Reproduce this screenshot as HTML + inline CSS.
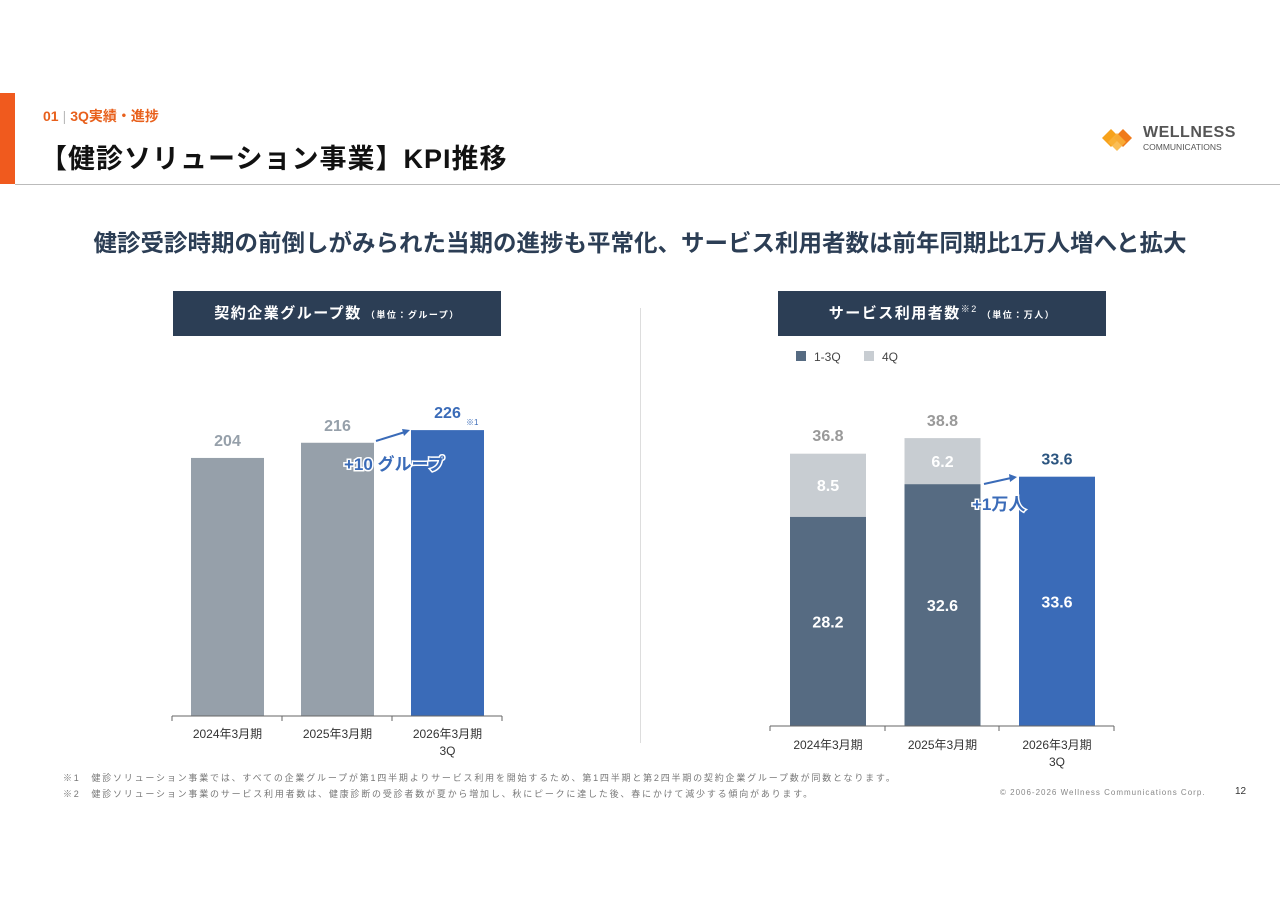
<!DOCTYPE html>
<html><head><meta charset="utf-8"><style>
body{margin:0;width:1280px;height:905px;background:#fff;font-family:"Liberation Sans","Noto Sans CJK JP",sans-serif;overflow:hidden;position:relative}
.abs{position:absolute}
</style></head><body>
<div class="abs" style="left:0;top:93px;width:15px;height:91px;background:#f05a1e"></div>
<div class="abs" style="left:43px;top:106px;font-size:14px;font-weight:bold;color:#e8601c">01<span style="color:#bbb;font-weight:normal;margin:0 4px">|</span>3Q実績・進捗</div>
<div class="abs" style="left:40px;top:137px;font-size:27px;font-weight:bold;color:#111;letter-spacing:1px">【健診ソリューション事業】KPI推移</div>
<div class="abs" style="left:15px;top:184px;width:1265px;height:1px;background:#bbb"></div>
<div class="abs" style="left:1100px;top:124px;width:140px;height:30px">
<svg width="40" height="28" style="position:absolute;left:0;top:0"><polygon points="2,14 11,5 20,14 11,23" fill="#f7a21b"/><polygon points="14,14 23,5 32,14 23,23" fill="#f07a1a"/><polygon points="8,18 17,9 26,18 17,27" fill="#f9b33a" opacity=".85"/></svg>
<div style="position:absolute;left:43px;top:0;font-size:16px;font-weight:bold;color:#555;letter-spacing:.5px">WELLNESS</div>
<div style="position:absolute;left:43px;top:18px;font-size:8.5px;color:#555">COMMUNICATIONS</div></div>
<div class="abs" style="left:0;width:1280px;top:224px;text-align:center;font-size:23.5px;font-weight:bold;color:#2c3e55;white-space:nowrap">健診受診時期の前倒しがみられた当期の進捗も平常化、サービス利用者数は前年同期比1万人増へと拡大</div>
<div class="abs" style="left:173px;top:291px;width:328px;height:45px;background:#2c3e55;color:#fff;text-align:center;line-height:45px;font-size:15px;font-weight:bold;letter-spacing:1.5px">契約企業グループ数<span style="font-size:9px"> （単位：グループ）</span></div>
<div class="abs" style="left:778px;top:291px;width:328px;height:45px;background:#2c3e55;color:#fff;text-align:center;line-height:45px;font-size:15px;font-weight:bold;letter-spacing:1.5px">サービス利用者数<sup style="font-size:9px;font-weight:normal;line-height:0">※2</sup><span style="font-size:9px"> （単位：万人）</span></div>
<div class="abs" style="left:640px;top:308px;width:1px;height:435px;background:#ddd"></div>
<svg class="abs" style="left:0;top:0" width="1280" height="905" id="svg"></svg>
<div class="abs" style="left:63px;top:770px;font-size:9px;color:#777;line-height:16px;letter-spacing:1.8px;white-space:nowrap">※1　健診ソリューション事業では、すべての企業グループが第1四半期よりサービス利用を開始するため、第1四半期と第2四半期の契約企業グループ数が同数となります。<br>※2　健診ソリューション事業のサービス利用者数は、健康診断の受診者数が夏から増加し、秋にピークに達した後、春にかけて減少する傾向があります。</div>
<div class="abs" style="left:1000px;top:788px;font-size:8px;color:#888;letter-spacing:1px;white-space:nowrap">© 2006-2026 Wellness Communications Corp.</div>
<div class="abs" style="left:1235px;top:786px;font-size:10px;color:#333">12</div>
<script>
const catsL=["2024年3月期","2025年3月期","2026年3月期|3Q"];
const valsL=[204,216,226];
const cats=["2024年3月期","2025年3月期","2026年3月期|3Q"];
const q13=[28.2,32.6,33.6];
const q4=[8.5,6.2,0];
const totals=[36.8,38.8,33.6];
const S=document.getElementById('svg');const N='http://www.w3.org/2000/svg';
function el(t,a,txt){const e=document.createElementNS(N,t);for(const k in a)e.setAttribute(k,a[k]);if(txt!=null)e.textContent=txt;S.appendChild(e);return e;}
// left
const yL=v=>716-v*1.265, xL=i=>191+i*110;
valsL.forEach((v,i)=>{
const b=el('rect',{x:xL(i),y:yL(v),width:73,height:716-yL(v),fill:i==2?'#3a6bb8':'#96a0aa'});

const t=el('text',{x:xL(i)+36.5,y:yL(v)-12,'text-anchor':'middle','font-size':16,'font-weight':'bold',fill:i==2?'#3a6bb8':'#96a0aa'},v);

catsL[i].split('|').forEach((s,j)=>{const c=el('text',{x:xL(i)+36.5,y:738+j*17,'text-anchor':'middle','font-size':12,fill:'#333'},s);});
});
el('line',{x1:172,x2:502,y1:716,y2:716,stroke:'#666'});
[172,282,392,502].forEach(x=>el('line',{x1:x,x2:x,y1:716,y2:721,stroke:'#666'}));
el('text',{x:466,y:425,'font-size':8,fill:'#3a6bb8'},'※1');
el('line',{x1:376,y1:441,x2:405,y2:432,stroke:'#3a6bb8','stroke-width':2});
el('polygon',{points:'410,430 402,429 404,436',fill:'#3a6bb8'});
el('text',{x:344,y:470,'font-size':17,'font-weight':'bold',fill:'#3a6bb8',stroke:'#fff','stroke-width':3,'paint-order':'stroke'},'+10 グループ');
// right
const yR=v=>726-v*7.42, xR=i=>790+i*114.5;
el('rect',{x:796,y:351,width:10,height:10,fill:'#566b82'});el('text',{x:814,y:361,'font-size':12,fill:'#444'},'1-3Q');
el('rect',{x:864,y:351,width:10,height:10,fill:'#c8cdd2'});el('text',{x:882,y:361,'font-size':12,fill:'#444'},'4Q');
cats.forEach((c,i)=>{
const x=xR(i);
const b1=el('rect',{x:x,y:yR(q13[i]),width:76,height:726-yR(q13[i]),fill:i==2?'#3a6bb8':'#566b82'});

el('text',{x:x+38,y:yR(q13[i]/2)+6,'text-anchor':'middle','font-size':16,'font-weight':'bold',fill:'#fff'},q13[i]);
if(q4[i]>0){const b2=el('rect',{x:x,y:yR(q13[i]+q4[i]),width:76,height:q4[i]*7.42,fill:'#c8cdd2'});

el('text',{x:x+38,y:yR(q13[i]+q4[i]/2)+6,'text-anchor':'middle','font-size':16,'font-weight':'bold',fill:'#fff'},q4[i]);}
el('text',{x:x+38,y:yR(totals[i])-12,'text-anchor':'middle','font-size':16,'font-weight':'bold',fill:i==2?'#2c5580':'#999'},totals[i]);
c.split('|').forEach((s,j)=>el('text',{x:x+38,y:749+j*17,'text-anchor':'middle','font-size':12,fill:'#333'},s));
});
el('line',{x1:770,x2:1114,y1:726,y2:726,stroke:'#666'});
[770,885,999,1114].forEach(x=>el('line',{x1:x,x2:x,y1:726,y2:731,stroke:'#666'}));
el('line',{x1:984,y1:484,x2:1011,y2:478,stroke:'#3a6bb8','stroke-width':2});
el('polygon',{points:'1017,477 1009,474 1010,482',fill:'#3a6bb8'});
el('text',{x:972,y:510,'font-size':17,'font-weight':'bold',fill:'#3a6bb8',stroke:'#fff','stroke-width':3,'paint-order':'stroke'},'+1万人');
</script>
</body></html>
